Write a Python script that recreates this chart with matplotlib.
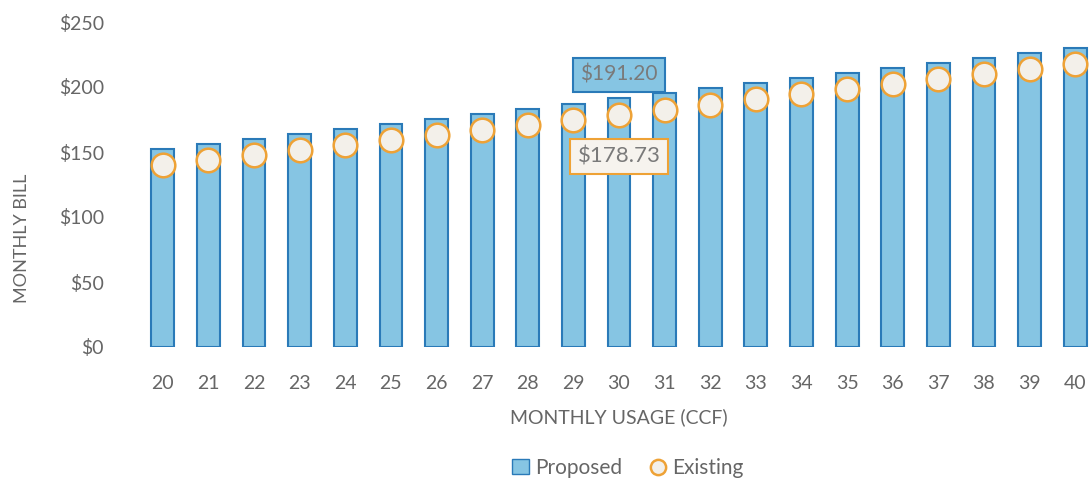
"""
Monthly bill comparison: proposed vs existing rates by monthly usage (CCF).
"""

import numpy as np
import matplotlib.pyplot as plt
from matplotlib.patches import Patch
from matplotlib.lines import Line2D

# Data
usage = [20, 21, 22, 23, 24, 25, 26, 27, 28, 29, 30,
         31, 32, 33, 34, 35, 36, 37, 38, 39, 40]
proposed = [152.2, 156.1, 160.0, 163.9, 167.8, 171.7, 175.6, 179.5, 183.4, 187.3, 191.2,
            195.1, 199.0, 202.9, 206.8, 210.7, 214.6, 218.5, 222.4, 226.3, 230.2]
existing = [139.7, 143.6, 147.5, 151.4, 155.3, 159.2, 163.1, 167.0, 170.9, 174.8, 178.73,
            182.6, 186.5, 190.4, 194.3, 198.2, 202.1, 206.0, 209.9, 213.8, 217.7]
yticks = [0, 50, 100, 150, 200, 250]
highlight = 30  # usage level with value labels

# Styles
bar_fill = '#86c5e3'
bar_edge = '#2a7ab8'
dot_fill = '#f3f0ea'
dot_edge = '#eea236'
text_gray = '#666666'

plt.rcParams['font.family'] = ['Lato', 'DejaVu Sans']


def main():
    fig = plt.figure(figsize=(10.89, 4.82), dpi=100)
    ax = fig.add_axes([140 / 1089, 135 / 482, 958 / 1089, 325 / 482])

    x = np.arange(len(usage))
    ax.bar(x, proposed, width=0.5, color=bar_fill, edgecolor=bar_edge, linewidth=1.5, zorder=2)
    ax.plot(x, existing, linestyle='none', marker='o', markersize=17,
            markerfacecolor=dot_fill, markeredgecolor=dot_edge, markeredgewidth=1.8, zorder=3)

    # Value labels at the highlighted usage level
    i = usage.index(highlight)
    ax.annotate(f'${proposed[i]:.2f}', (x[i], proposed[i]), xytext=(0, 17),
                textcoords='offset points', ha='center', va='center', fontsize=15,
                color='#7a7a7a',
                bbox=dict(boxstyle='square,pad=0.35', fc=bar_fill, ec=bar_edge, lw=1.5),
                zorder=4)
    ax.annotate(f'${existing[i]:.2f}', (x[i], existing[i]), xytext=(0, -30),
                textcoords='offset points', ha='center', va='center', fontsize=16,
                color='#7a7a7a',
                bbox=dict(boxstyle='square,pad=0.35', fc='#f6f3ee', ec=dot_edge, lw=1.5),
                zorder=4)

    ax.set_xlim(-0.5, len(usage) - 0.5)
    ax.set_ylim(0, 250)
    ax.set_xticks(x)
    ax.set_xticklabels([str(u) for u in usage])
    ax.set_yticks(yticks)
    ax.set_yticklabels([f'${v}' for v in yticks])
    ax.tick_params(length=0, labelsize=14, colors=text_gray)
    ax.tick_params(axis='x', pad=20)
    ax.tick_params(axis='y', pad=26)
    for s in ax.spines.values():
        s.set_visible(False)

    ax.set_xlabel('MONTHLY USAGE (CCF)', fontsize=14, color=text_gray, labelpad=12)
    fig.text(22 / 1089, 1 - 238 / 482, 'MONTHLY BILL', rotation=90, ha='center', va='center',
             fontsize=13, color=text_gray)

    handles = [
        Patch(facecolor=bar_fill, edgecolor=bar_edge, label='Proposed'),
        Line2D([], [], linestyle='none', marker='o', markersize=11,
               markerfacecolor=dot_fill, markeredgecolor=dot_edge, markeredgewidth=1.8,
               label='Existing'),
    ]
    fig.legend(handles=handles, loc='center', bbox_to_anchor=(628 / 1089, 14 / 482), ncol=2,
               frameon=False, fontsize=15, labelcolor=text_gray, handlelength=0.8,
               handletextpad=0.3, columnspacing=1.3)

    fig.savefig('out.png', dpi=100)


if __name__ == "__main__":
    main()
